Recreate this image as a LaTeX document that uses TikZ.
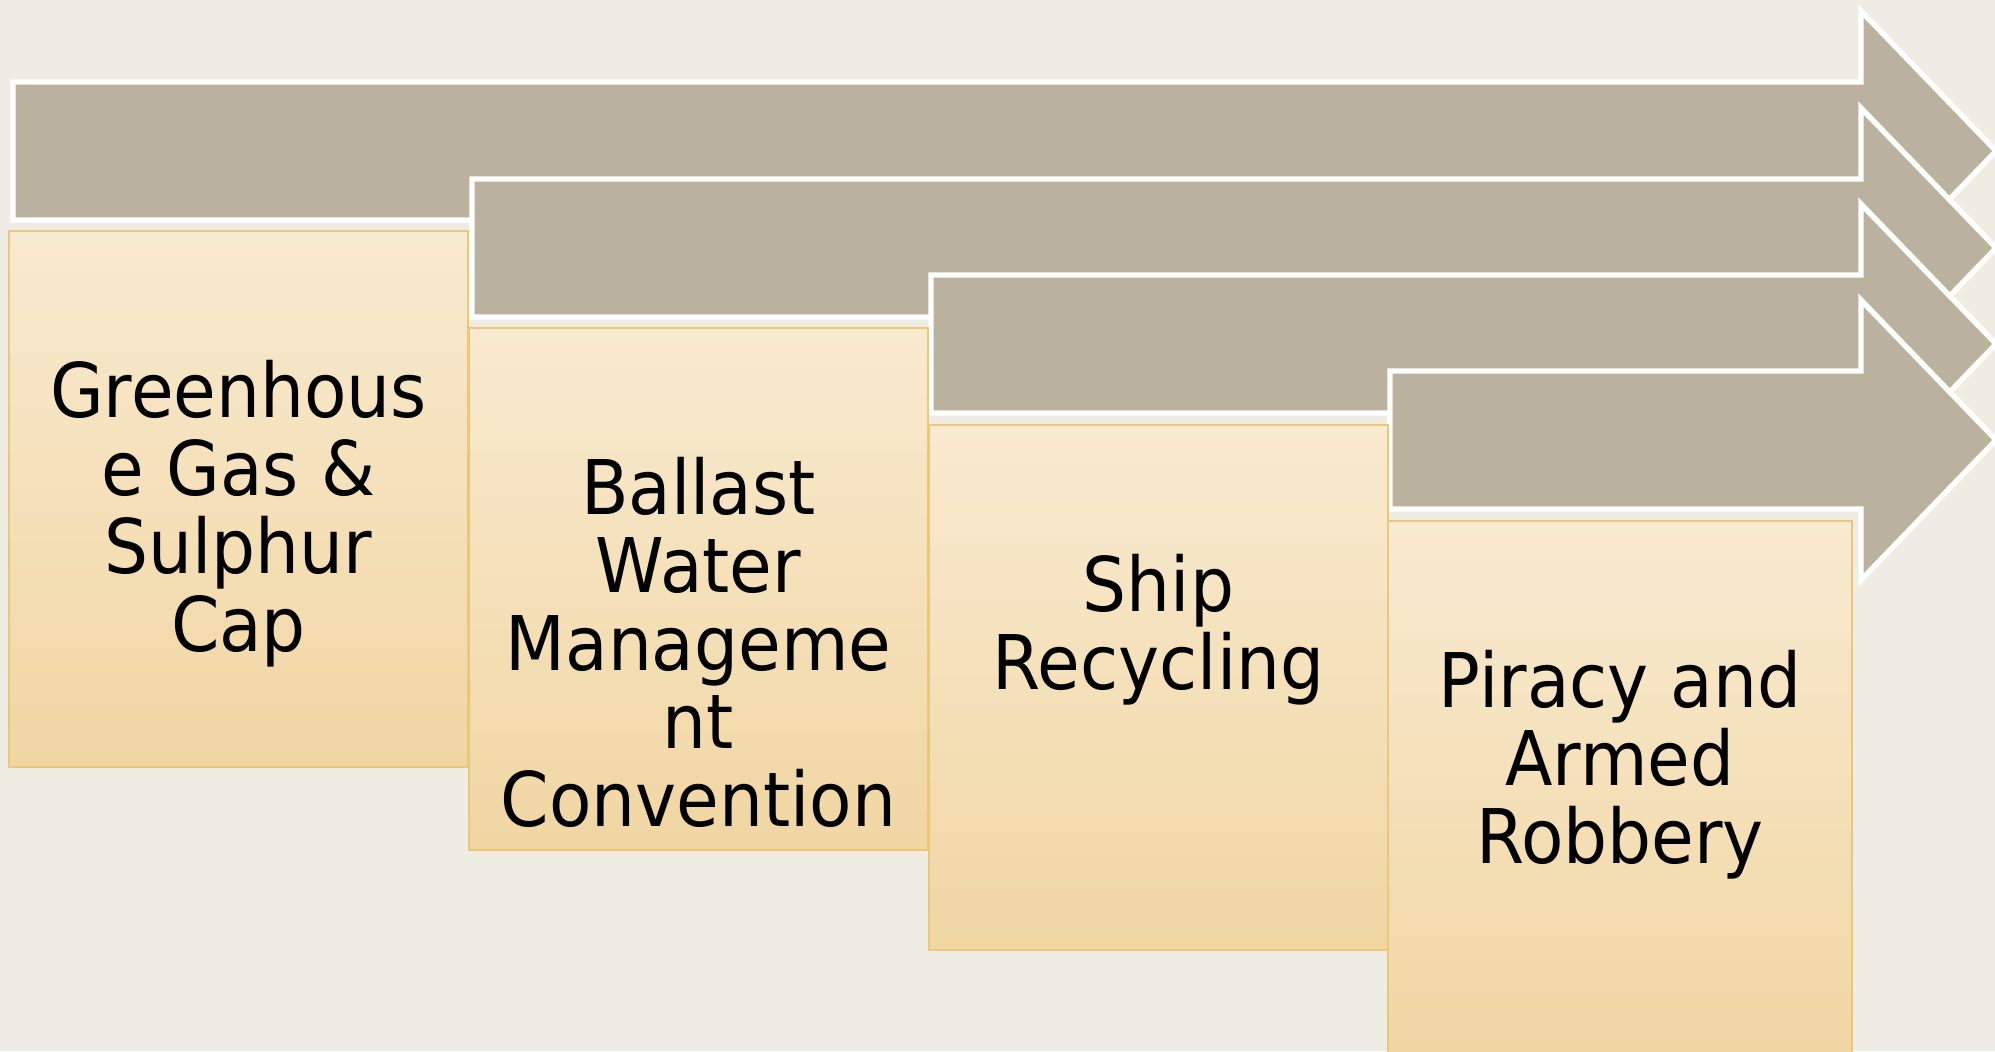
\documentclass[tikz,border=0pt]{standalone}
\usepackage{fontspec}
\setmainfont{DejaVu Sans}[FakeStretch=0.92]
\definecolor{canvas}{RGB}{239,236,227}
\definecolor{bandfill}{RGB}{186,177,159}
\definecolor{boxtop}{RGB}{248,234,208}
\definecolor{boxbottom}{RGB}{241,214,163}
\definecolor{boxline}{RGB}{235,199,120}
\begin{document}
\begin{tikzpicture}[x=0.5pt,y=-0.5pt]
    % `band' is used for the four grey arrows.
    % `topic' is used for the shaded boxes below them.
    % `caption' is used for the text in the boxes (anchored at its last line).
    \tikzstyle{band} = [draw=white,fill=bandfill,line width=2.7pt]
    \tikzstyle{topic} = [draw=boxline,line width=0.6pt,top color=boxtop,bottom color=boxbottom,minimum width=229.5pt,inner sep=0pt,outer sep=0pt,anchor=north west]
    \tikzstyle{caption} = [align=center,anchor=base,inner sep=0pt,font=\fontsize{37.7pt}{39pt}\selectfont]
    %
    \useasboundingbox (0,0) rectangle (1995,1051);
    \clip (0,0) rectangle (1995,1051);
    \fill[canvas] (0,0) rectangle (1995,1051);
    % Draw arrows, each one over the one before.
    \foreach \x/\y in {13/82,472/179,931/275,1390/371}
      \draw[band] (\x,\y) -- (1861,\y) -- (1861,\y-71) -- (1996,\y+69)
                  -- (1861,\y+209) -- (1861,\y+138) -- (\x,\y+138) -- cycle;
    % Draw boxes.
    \node[topic,minimum height=268pt] (box1) at (9,231) {};
    \node[topic,minimum height=261pt] (box2) at (469,328) {};
    \node[topic,minimum height=262.5pt] (box3) at (929,425) {};
    \node[topic,minimum height=267pt,minimum width=232pt] (box4) at (1388,521) {};
    % Draw texts.
    \node[caption] (txt1) at ([yshift=-210pt]box1.north) {Greenhous\\e Gas \&\\Sulphur\\Cap};
    \node[caption] (txt2) at ([yshift=-249pt]box2.north) {Ballast\\Water\\Manageme\\nt\\Convention};
    \node[caption] (txt3) at ([yshift=-132pt]box3.north) {Ship\\Recycling};
    \node[caption] (txt4) at ([yshift=-171pt]box4.north) {Piracy and\\Armed\\Robbery};
\end{tikzpicture}
\end{document}
